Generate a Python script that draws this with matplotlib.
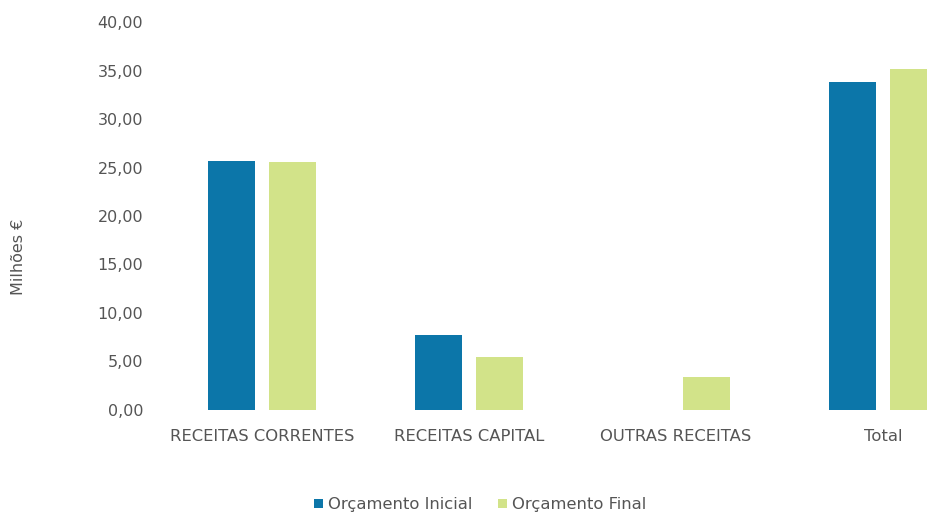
import matplotlib
matplotlib.use("Agg")
import matplotlib.pyplot as plt
import numpy as np
from matplotlib.ticker import FuncFormatter, MultipleLocator

categories = ["RECEITAS CORRENTES", "RECEITAS CAPITAL", "OUTRAS RECEITAS", "Total"]
orcamento_inicial = [25.7, 7.7, 0.0, 33.8]
orcamento_final = [25.6, 5.5, 3.4, 35.2]
series_names = ["Orçamento Inicial", "Orçamento Final"]

blue = "#0C76A9"
green = "#D2E389"
text_gray = "#555555"

fig = plt.figure(figsize=(9.27, 5.13), dpi=100)
ax = fig.add_axes([0.171, 0.2008, 0.893, 0.7563])

x = np.arange(len(categories))
w = 0.227
off = 0.147
ax.bar(x - off, orcamento_inicial, w, color=blue, label=series_names[0])
ax.bar(x + off, orcamento_final, w, color=green, label=series_names[1])

ax.set_xlim(-0.5, 3.5)
ax.set_ylim(0, 40)
ax.yaxis.set_major_locator(MultipleLocator(5))
ax.yaxis.set_major_formatter(FuncFormatter(lambda v, p: f"{v:.2f}".replace(".", ",")))
ax.set_xticks(x)
ax.set_xticklabels(categories)

for s in ax.spines.values():
    s.set_visible(False)
ax.tick_params(axis="both", length=0, colors=text_gray)
ax.tick_params(axis="y", pad=11, labelsize=11.5)
ax.tick_params(axis="x", pad=13.5, labelsize=11.8)

fig.text(0.02, 0.5, "Milhões €", rotation=90, ha="center", va="center",
         color=text_gray, fontsize=11.5)

fig.legend(loc="center", bbox_to_anchor=(0.518, 0.016), ncol=2, frameon=False,
           fontsize=11.8, handlelength=0.55, handleheight=0.55, handletextpad=0.3,
           columnspacing=1.6, labelcolor=text_gray)

fig.savefig("out.png", dpi=100)
